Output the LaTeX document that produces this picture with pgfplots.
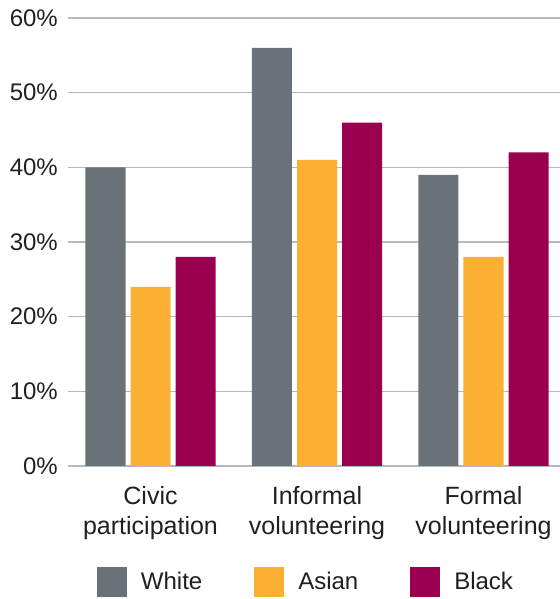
\documentclass[border=0pt]{standalone}
\usepackage{pgfplots}
\pgfplotsset{compat=1.18}
\usepackage{fontspec}
\setmainfont{Liberation Sans}
\definecolor{cwhite}{HTML}{6B7178}
\definecolor{casian}{HTML}{FBB034}
\definecolor{cblack}{HTML}{9B0050}
\definecolor{cgrid}{HTML}{B5B9BD}
\definecolor{ctext}{HTML}{231F20}
\begin{document}
\begin{tikzpicture}
\useasboundingbox (0,0) rectangle (560bp,599bp);
\begin{axis}[
  at={(68bp,133bp)}, anchor=south west,
  scale only axis, width=492bp, height=448bp,
  xmin=-0.4955, xmax=2.4595,
  ymin=0, ymax=60,
  ybar, bar width=40bp,
  axis line style={draw=none},
  major tick length=0pt,
  ytick={0,10,...,60},
  ymajorgrids, grid style={cgrid, line width=1.5bp},
  xtick={0,1,2},
  xticklabels={{Civic\\participation},{Informal\\volunteering},{Formal\\volunteering}},
  xticklabel style={align=center, font=\fontsize{25bp}{30bp}\selectfont, text=ctext, yshift=-17bp},
  yticklabel={\pgfmathprintnumber{\tick}\%},
  yticklabel style={font=\fontsize{24bp}{28bp}\selectfont, text=ctext, inner sep=0pt, xshift=-10bp},
  /pgf/number format/assume math mode=true,
  legend style={at={(axis description cs:0.4837,-0.259)}, anchor=center, draw=none,
    legend columns=3, font=\fontsize{24bp}{28bp}\selectfont, text=ctext,
    /tikz/every odd column/.append style={column sep=12bp},
    /tikz/every even column/.append style={column sep=50bp}},
  legend image code/.code={\fill[#1] (0bp,-15bp) rectangle (30bp,15bp);},
  legend cell align=left,
]
\addplot[fill=cwhite, draw=none, bar shift=-45bp] coordinates {(0,40) (1,56) (2,39)};
\addplot[fill=casian, draw=none, bar shift=0bp] coordinates {(0,24) (1,41) (2,28)};
\addplot[fill=cblack, draw=none, bar shift=45bp] coordinates {(0,28) (1,46) (2,42)};
\legend{White,Asian,Black}
\end{axis}
\end{tikzpicture}
\end{document}
